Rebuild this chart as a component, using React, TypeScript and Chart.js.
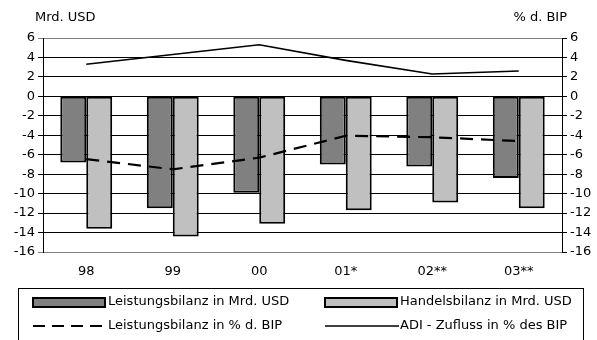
import React, { useEffect, useRef } from "react";
import { Chart, registerables } from "chart.js";

Chart.register(...registerables);

const categories = ["98", "99", "00", "01*", "02**", "03**"];
const leistungsbilanzMrd = [-6.8, -11.5, -9.9, -7.0, -7.2, -8.4];
const handelsbilanzMrd = [-13.6, -14.4, -13.1, -11.7, -10.9, -11.5];
const leistungsbilanzPct = [-6.45, -7.5, -6.3, -4.05, -4.2, -4.6];
const adiZuflussPct = [3.3, 4.3, 5.3, 3.7, 2.3, 2.6];

const legendLabels = [
  "Leistungsbilanz in Mrd. USD",
  "Handelsbilanz in Mrd. USD",
  "Leistungsbilanz in % d. BIP",
  "ADI - Zufluss in % des BIP",
];

const FONT = "'DejaVu Sans', sans-serif";

export default function App() {
  const ref = useRef<HTMLCanvasElement | null>(null);
  useEffect(() => {
    document.body.style.margin = "0";
    const canvas = ref.current!;
    const extras = {
      id: "extras",
      afterDraw(chart: any) {
        const ctx = chart.ctx;
        ctx.save();
        ctx.fillStyle = "#000";
        ctx.font = `13px ${FONT}`;
        ctx.textBaseline = "middle";
        ctx.textAlign = "left";
        ctx.fillText("Mrd. USD", 35, 18);
        ctx.textAlign = "right";
        ctx.fillText("% d. BIP", 567, 18);
        // legend box
        ctx.strokeStyle = "#000";
        ctx.lineWidth = 1;
        ctx.strokeRect(18.5, 288.5, 565, 60);
        ctx.textAlign = "left";
        const cols = [33, 325];
        const rows = [302, 326];
        ctx.lineWidth = 2;
        ctx.fillStyle = "#808080";
        ctx.fillRect(cols[0], rows[0] - 4, 72, 9);
        ctx.strokeRect(cols[0], rows[0] - 4, 72, 9);
        ctx.fillStyle = "#c0c0c0";
        ctx.fillRect(cols[1], rows[0] - 4, 72, 9);
        ctx.strokeRect(cols[1], rows[0] - 4, 72, 9);
        ctx.lineWidth = 2;
        ctx.setLineDash([12, 7]);
        ctx.beginPath();
        ctx.moveTo(cols[0], rows[1]);
        ctx.lineTo(cols[0] + 74, rows[1]);
        ctx.stroke();
        ctx.setLineDash([]);
        ctx.lineWidth = 1.5;
        ctx.beginPath();
        ctx.moveTo(cols[1], rows[1]);
        ctx.lineTo(cols[1] + 74, rows[1]);
        ctx.stroke();
        ctx.fillStyle = "#000";
        ctx.font = `13px ${FONT}`;
        ctx.fillText(legendLabels[0], cols[0] + 75, rows[0]);
        ctx.fillText(legendLabels[1], cols[1] + 75, rows[0]);
        ctx.fillText(legendLabels[2], cols[0] + 75, rows[1]);
        ctx.fillText(legendLabels[3], cols[1] + 75, rows[1]);
        ctx.restore();
      },
    };
    const gridColor = (c: any) =>
      c.tick && (c.tick.value === 6 || c.tick.value === -16) ? "#808080" : "#000";
    const chart = new Chart(canvas, {
      type: "bar",
      data: {
        labels: categories,
        datasets: [
          {
            type: "line",
            label: legendLabels[2],
            data: leistungsbilanzPct,
            borderColor: "#000",
            borderWidth: 2.2,
            borderDash: [13, 8],
            pointRadius: 0,
            tension: 0,
            yAxisID: "y2",
          } as any,
          {
            type: "line",
            label: legendLabels[3],
            data: adiZuflussPct,
            borderColor: "#000",
            borderWidth: 1.6,
            pointRadius: 0,
            tension: 0,
            yAxisID: "y2",
          } as any,
          {
            label: legendLabels[0],
            data: leistungsbilanzMrd,
            backgroundColor: "#808080",
            borderColor: "#000",
            borderWidth: 2,
            borderSkipped: false,
            categoryPercentage: 0.6,
            barPercentage: 1.0,
            yAxisID: "y",
          },
          {
            label: legendLabels[1],
            data: handelsbilanzMrd,
            backgroundColor: "#c0c0c0",
            borderColor: "#000",
            borderWidth: 2,
            borderSkipped: false,
            categoryPercentage: 0.6,
            barPercentage: 1.0,
            yAxisID: "y",
          },
        ],
      },
      options: {
        animation: false,
        responsive: false,
        layout: { padding: { top: 38, bottom: 58, left: 0, right: 0 } },
        plugins: { legend: { display: false }, tooltip: { enabled: false } },
        scales: {
          x: {
            grid: { display: false, drawTicks: false },
            border: { display: false },
            ticks: { color: "#000", font: { family: FONT, size: 13 }, padding: 12 },
            afterFit(s: any) {
              s.height = 30;
            },
          },
          y: {
            position: "left",
            min: -16,
            max: 6,
            ticks: {
              stepSize: 2,
              color: "#000",
              font: { family: FONT, size: 13 },
              padding: 3,
            },
            grid: { color: gridColor, tickLength: 5, lineWidth: 1 },
            border: { color: "#000", width: 1 },
            afterFit(s: any) {
              s.width = 43;
            },
          },
          y2: {
            position: "right",
            min: -16,
            max: 6,
            ticks: {
              stepSize: 2,
              color: "#000",
              font: { family: FONT, size: 13 },
              padding: 3,
            },
            grid: { drawOnChartArea: false, color: "#000", tickLength: 5 },
            border: { color: "#000", width: 1 },
            afterFit(s: any) {
              s.width = 35;
            },
          },
        },
      },
      plugins: [extras],
    });
    return () => chart.destroy();
  }, []);
  return <canvas ref={ref} width={597} height={340} style={{ display: "block" }} />;
}
